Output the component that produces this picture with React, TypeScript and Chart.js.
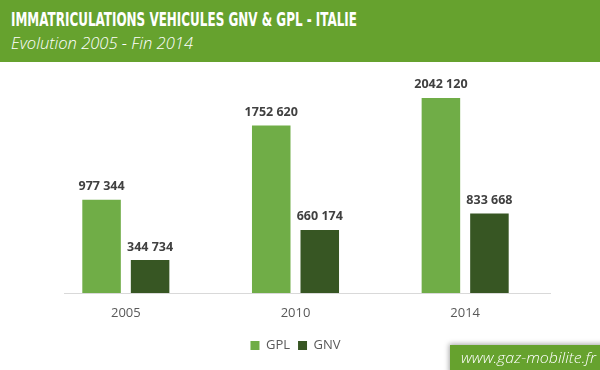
import React, { useEffect, useLayoutEffect, useRef } from "react";
import { Chart, registerables } from "chart.js";

Chart.register(...registerables);

// ---- data ----
const categories = ["2005", "2010", "2014"];
const seriesNames = ["GPL", "GNV"];
const gplValues = [977344, 1752620, 2042120];
const gnvValues = [344734, 660174, 833668];
const titleText = "IMMATRICULATIONS VEHICULES GNV & GPL - ITALIE";
const subtitleText = "Evolution 2005 - Fin 2014";
const siteText = "www.gaz-mobilite.fr";

const GPL_COLOR = "#70ad47";
const GNV_COLOR = "#375623";
const HEADER_GREEN = "#66a22e";

function fmt(n: number): string {
  const s = String(n);
  if (s.length <= 3) return s;
  return s.slice(0, -3) + " " + s.slice(-3);
}

function FitText(props: { text: string; width: number; style: React.CSSProperties }) {
  const ref = useRef<HTMLSpanElement>(null);
  useLayoutEffect(() => {
    const el = ref.current;
    if (!el) return;
    el.style.transform = "none";
    const w = el.getBoundingClientRect().width;
    if (w > 0) el.style.transform = `scaleX(${props.width / w})`;
  }, [props.text, props.width]);
  return (
    <span
      ref={ref}
      style={{
        display: "inline-block",
        whiteSpace: "nowrap",
        transformOrigin: "left center",
        ...props.style,
      }}
    >
      {props.text}
    </span>
  );
}

const valueLabelPlugin = {
  id: "valueLabels",
  afterDatasetsDraw(chart: any) {
    const ctx = chart.ctx;
    ctx.save();
    ctx.font = "bold 12.5px 'Open Sans'";
    ctx.fillStyle = "#404040";
    ctx.textAlign = "center";
    ctx.textBaseline = "alphabetic";
    chart.data.datasets.forEach((ds: any, di: number) => {
      const meta = chart.getDatasetMeta(di);
      meta.data.forEach((bar: any, i: number) => {
        ctx.fillText(fmt(ds.data[i]), bar.x, bar.y - 9.5);
      });
    });
    ctx.restore();
  },
};

const axisLinePlugin = {
  id: "axisLine",
  afterDatasetsDraw(chart: any) {
    const ctx = chart.ctx;
    const y = Math.round(chart.chartArea.bottom) + 0.5;
    ctx.save();
    ctx.strokeStyle = "#d9d9d9";
    ctx.lineWidth = 1;
    ctx.beginPath();
    ctx.moveTo(64, y);
    ctx.lineTo(551, y);
    ctx.stroke();
    ctx.restore();
  },
};

export default function App() {
  const canvasRef = useRef<HTMLCanvasElement>(null);

  useEffect(() => {
    const canvas = canvasRef.current;
    if (!canvas) return;
    const chart = new Chart(canvas, {
      type: "bar",
      data: {
        labels: categories,
        datasets: [
          {
            label: seriesNames[0],
            data: gplValues,
            backgroundColor: GPL_COLOR,
            categoryPercentage: 0.572,
            barPercentage: 0.794,
          },
          {
            label: seriesNames[1],
            data: gnvValues,
            backgroundColor: GNV_COLOR,
            categoryPercentage: 0.572,
            barPercentage: 0.794,
          },
        ],
      },
      options: {
        responsive: false,
        animation: false,
        layout: { padding: { left: 41, right: 50, top: 70, bottom: 8 } },
        scales: {
          x: {
            grid: { display: false, drawTicks: false },
            border: { display: false },
            ticks: {
              color: "#595959",
              font: { family: "'Open Sans'", size: 13 },
              padding: 12,
            },
            afterFit: (s: any) => {
              s.height = 38;
            },
          },
          y: { display: false, min: 0, max: 2335000 },
        },
        plugins: {
          legend: {
            position: "bottom",
            labels: {
              boxWidth: 9,
              boxHeight: 9,
              color: "#595959",
              font: { family: "'Open Sans'", size: 13 },
              padding: 8,
            },
          },
          tooltip: { enabled: false },
        },
      } as any,
      plugins: [valueLabelPlugin, axisLinePlugin],
    });
    return () => chart.destroy();
  }, []);

  return (
    <div
      style={{
        position: "absolute",
        left: 0,
        top: 0,
        width: 600,
        height: 370,
        background: "#ffffff",
        overflow: "hidden",
      }}
    >
      <canvas ref={canvasRef} width={600} height={370} style={{ position: "absolute", left: 0, top: 0 }} />
      <div
        style={{
          position: "absolute",
          left: 0,
          top: 0,
          width: 600,
          height: 62,
          background: HEADER_GREEN,
        }}
      />
      <div style={{ position: "absolute", left: 11, top: 10, lineHeight: "19px" }}>
        <FitText
          text={titleText}
          width={346}
          style={{
            fontFamily: "'DejaVu Sans Condensed', 'DejaVu Sans'",
            fontStretch: "condensed",
            fontWeight: 700,
            fontSize: 19,
            color: "#ffffff",
          }}
        />
      </div>
      <div style={{ position: "absolute", left: 11, top: 35, lineHeight: "16px" }}>
        <FitText
          text={subtitleText}
          width={182}
          style={{
            fontFamily: "'Open Sans'",
            fontStyle: "italic",
            fontWeight: 300,
            fontSize: 16,
            color: "#ffffff",
          }}
        />
      </div>
      <div
        style={{
          position: "absolute",
          left: 450,
          top: 345,
          width: 160,
          height: 30,
          background: HEADER_GREEN,
          boxShadow: "-1px -1px 5px rgba(0,0,0,0.35)",
        }}
      />
      <div style={{ position: "absolute", left: 461, top: 350, lineHeight: "15px" }}>
        <FitText
          text={siteText}
          width={135}
          style={{
            fontFamily: "'Open Sans'",
            fontStyle: "italic",
            fontWeight: 300,
            fontSize: 15,
            color: "#ffffff",
          }}
        />
      </div>
    </div>
  );
}
